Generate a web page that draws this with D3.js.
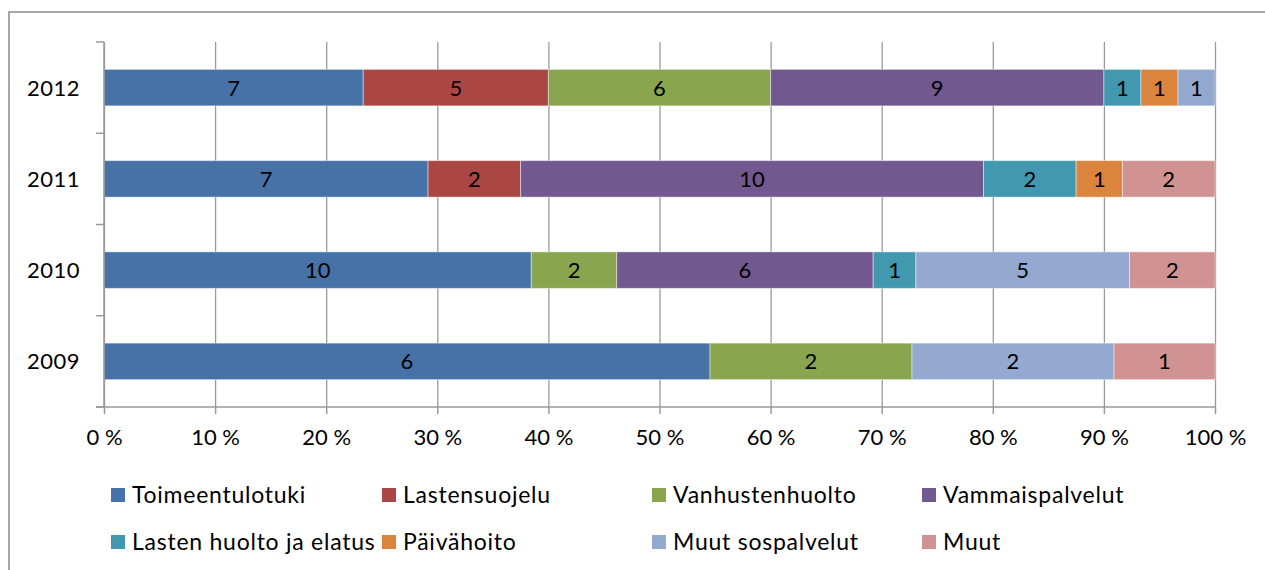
<!DOCTYPE html>
<html>
<head>
<meta charset="utf-8">
<script src="https://cdn.jsdelivr.net/npm/d3@7"></script>
<style>
  body { margin: 0; background: #fff; }
  text { font-family: Lato, "Open Sans", sans-serif; fill: #000; }
</style>
</head>
<body>
<div id="chart"></div>
<script>
// data
var years = ['2012', '2011', '2010', '2009'];
var categories = ['Toimeentulotuki', 'Lastensuojelu', 'Vanhustenhuolto', 'Vammaispalvelut',
  'Lasten huolto ja elatus', 'Päivähoito', 'Muut sospalvelut', 'Muut'];
var colors = ['#4672A8', '#AA4643', '#89A54E', '#71588F', '#4198AF', '#DB843D', '#93A9CF', '#D19392'];

var toimeentulotuki = [7, 7, 10, 6];
var lastensuojelu = [5, 2, 0, 0];
var vanhustenhuolto = [6, 0, 2, 2];
var vammaispalvelut = [9, 10, 6, 0];
var lastenHuolto = [1, 2, 1, 0];
var paivahoito = [1, 1, 0, 0];
var muutSospalvelut = [1, 0, 5, 2];
var muut = [0, 2, 2, 1];

var xTicks = [0, 0.1, 0.2, 0.3, 0.4, 0.5, 0.6, 0.7, 0.8, 0.9, 1];

var width = 1265;
var height = 570;

// table for d3.stack
var series = [toimeentulotuki, lastensuojelu, vanhustenhuolto, vammaispalvelut,
  lastenHuolto, paivahoito, muutSospalvelut, muut];
var rows = years.map(function(y, i) {
  var r = { year: y };
  categories.forEach(function(c, j) { r[c] = series[j][i]; });
  return r;
});

var stacked = d3.stack()
  .keys(categories)
  .offset(d3.stackOffsetExpand)(rows);

var svg = d3.select('#chart').append('svg')
  .attr('width', width)
  .attr('height', height);

// chart frame
svg.append('rect')
  .attr('x', 9).attr('y', 12)
  .attr('width', 1300).attr('height', 600)
  .attr('fill', 'none')
  .attr('stroke', '#8a8a8a')
  .attr('stroke-width', 1.5);

var plot = { left: 104, right: 1215, top: 42, bottom: 407 };

var x = d3.scaleLinear().domain([0, 1]).range([plot.left, plot.right]);
var y = d3.scaleBand().domain(years).range([plot.top, plot.bottom])
  .paddingInner(0.6).paddingOuter(0.3);
var color = d3.scaleOrdinal().domain(categories).range(colors);

// vertical gridlines
svg.append('g')
  .attr('transform', 'translate(0,' + plot.bottom + ')')
  .call(d3.axisBottom(x).tickValues(xTicks).tickSize(-(plot.bottom - plot.top)).tickFormat(''))
  .call(function(g) { g.select('.domain').remove(); })
  .selectAll('line').attr('stroke', '#9a9a9a').attr('stroke-width', 1.3);

// bars
var groups = svg.append('g').selectAll('g')
  .data(stacked)
  .enter().append('g')
    .attr('fill', function(d) { return color(d.key); });

groups.selectAll('rect')
  .data(function(d) { return d; })
  .enter().append('rect')
    .attr('x', function(d) { return x(d[0]); })
    .attr('y', function(d) { return y(d.data.year); })
    .attr('width', function(d) { return x(d[1]) - x(d[0]); })
    .attr('height', y.bandwidth())
    .attr('stroke', 'rgba(255,255,255,0.45)')
    .attr('stroke-width', 1);

// segment labels
var labels = [];
stacked.forEach(function(s) {
  s.forEach(function(d) {
    var v = d.data[s.key];
    if (v > 0) labels.push({ v: v, x: (x(d[0]) + x(d[1])) / 2, y: y(d.data.year) + y.bandwidth() / 2 });
  });
});
svg.append('g').selectAll('text')
  .data(labels)
  .enter().append('text')
    .attr('x', function(d) { return d.x; })
    .attr('y', function(d) { return d.y; })
    .attr('dy', '0.36em')
    .attr('text-anchor', 'middle')
    .attr('font-size', 22)
    .text(function(d) { return d.v; });

// bottom axis
var xAxis = svg.append('g')
  .attr('transform', 'translate(0,' + plot.bottom + ')')
  .call(d3.axisBottom(x).tickValues(xTicks).tickSize(7).tickPadding(15)
    .tickFormat(function(d) { return Math.round(d * 100) + ' %'; }));
xAxis.select('.domain').attr('d', 'M' + (plot.left - 8) + ',0H' + plot.right)
  .attr('stroke', '#9a9a9a').attr('stroke-width', 1.5);
xAxis.selectAll('line').attr('stroke', '#9a9a9a').attr('stroke-width', 1.5);
xAxis.selectAll('text').attr('font-size', 22).attr('font-family', 'Lato, sans-serif').attr('fill', '#000');

// left axis: line plus ticks at category boundaries
var yAxis = svg.append('g');
yAxis.append('line')
  .attr('x1', plot.left).attr('x2', plot.left)
  .attr('y1', plot.top).attr('y2', plot.bottom)
  .attr('stroke', '#9a9a9a').attr('stroke-width', 1.5);
var bounds = d3.range(years.length + 1).map(function(i) {
  return y.range()[0] + i * (y.range()[1] - y.range()[0]) / years.length;
});
yAxis.selectAll('line.tick')
  .data(bounds)
  .enter().append('line')
    .attr('class', 'tick')
    .attr('x1', plot.left - 8).attr('x2', plot.left)
    .attr('y1', function(d) { return d; }).attr('y2', function(d) { return d; })
    .attr('stroke', '#9a9a9a').attr('stroke-width', 1.5);
yAxis.selectAll('text')
  .data(years)
  .enter().append('text')
    .attr('x', plot.left - 24)
    .attr('y', function(d) { return y(d) + y.bandwidth() / 2; })
    .attr('dy', '0.36em')
    .attr('text-anchor', 'end')
    .attr('font-size', 22)
    .attr('letter-spacing', 0.5)
    .text(function(d) { return d; });

// legend: 4 columns, 2 rows
var legendX = [111, 382, 652, 922];
var legendY = [495, 542];
var legend = svg.append('g').selectAll('g')
  .data(categories)
  .enter().append('g')
    .attr('transform', function(d, i) {
      return 'translate(' + legendX[i % 4] + ',' + legendY[Math.floor(i / 4)] + ')';
    });
legend.append('rect')
  .attr('x', 0).attr('y', -7)
  .attr('width', 14).attr('height', 14)
  .attr('fill', function(d) { return color(d); });
legend.append('text')
  .attr('x', 21)
  .attr('dy', '0.36em')
  .attr('font-size', 23)
  .attr('letter-spacing', 0.75)
  .text(function(d) { return d; });
</script>
</body>
</html>
